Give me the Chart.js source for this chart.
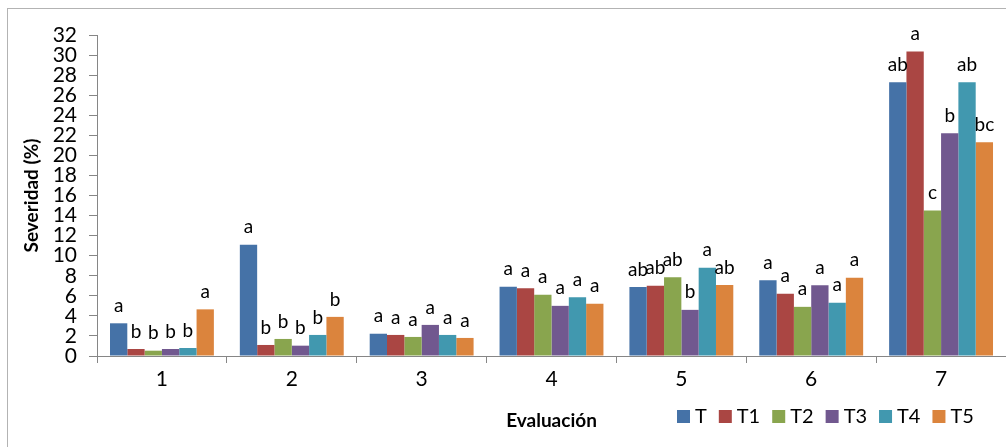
<!DOCTYPE html>
<html>
<head>
<meta charset="utf-8">
<script src="https://cdn.jsdelivr.net/npm/chart.js@4"></script>
<style>
  html, body { margin: 0; padding: 0; background: #fff; overflow: hidden; }
  #wrap { position: relative; width: 1006px; height: 447px; }
  #frame { position: absolute; left: 7px; top: 8px; width: 1100px; height: 500px; border: 1px solid #b3b3b3; }
  #box { position: absolute; left: 0; top: 0; width: 1006px; height: 447px; }
</style>
</head>
<body>
<div id="wrap">
  <div id="frame"></div>
  <div id="box"><canvas id="myChart"></canvas></div>
</div>
<script>
const categories = ['1', '2', '3', '4', '5', '6', '7'];
const seriesNames = ['T', 'T1', 'T2', 'T3', 'T4', 'T5'];
const valuesT  = [3.26, 11.1, 2.22, 6.9, 6.88, 7.55, 27.3];
const valuesT1 = [0.7, 1.1, 2.1, 6.75, 7.0, 6.2, 30.35];
const valuesT2 = [0.53, 1.7, 1.9, 6.1, 7.85, 4.9, 14.5];
const valuesT3 = [0.7, 1.03, 3.1, 5.0, 4.6, 7.05, 22.2];
const valuesT4 = [0.8, 2.1, 2.1, 5.85, 8.8, 5.3, 27.3];
const valuesT5 = [4.65, 3.9, 1.8, 5.2, 7.08, 7.8, 21.3];
const lettersT  = ['a', 'a', 'a', 'a', 'ab', 'a', 'ab'];
const lettersT1 = ['b', 'b', 'a', 'a', 'ab', 'a', 'a'];
const lettersT2 = ['b', 'b', 'a', 'a', 'ab', 'a', 'c'];
const lettersT3 = ['b', 'b', 'a', 'a', 'b', 'a', 'b'];
const lettersT4 = ['b', 'b', 'a', 'a', 'a', 'a', 'ab'];
const lettersT5 = ['a', 'b', 'a', 'a', 'ab', 'a', 'bc'];
const yTicks = [0, 2, 4, 6, 8, 10, 12, 14, 16, 18, 20, 22, 24, 26, 28, 30, 32];
const colors = ['#4572A7', '#AA4643', '#89A54E', '#71588F', '#4198AF', '#DB843D'];

const allValues = [valuesT, valuesT1, valuesT2, valuesT3, valuesT4, valuesT5];
const allLetters = [lettersT, lettersT1, lettersT2, lettersT3, lettersT4, lettersT5];
const FONT = 'Lato, Carlito, "Open Sans", sans-serif';

// letters above each bar
const letterPlugin = {
    id: 'letters',
    afterDatasetsDraw(chart) {
        const ctx = chart.ctx;
        ctx.save();
        ctx.font = '19px ' + FONT;
        ctx.fillStyle = '#000';
        ctx.textAlign = 'center';
        ctx.textBaseline = 'bottom';
        chart.data.datasets.forEach((ds, i) => {
            chart.getDatasetMeta(i).data.forEach((bar, j) => {
                ctx.fillText(allLetters[i][j], bar.x, bar.y - 8);
            });
        });
        ctx.restore();
    }
};

// legend drawn beside the x axis title
const legendPlugin = {
    id: 'sideLegend',
    afterDraw(chart) {
        const ctx = chart.ctx;
        ctx.save();
        ctx.font = '20px ' + FONT;
        ctx.textBaseline = 'middle';
        ctx.textAlign = 'left';
        let x = 677;
        const y = 416;
        chart.data.datasets.forEach((ds) => {
            ctx.fillStyle = ds.backgroundColor;
            ctx.fillRect(x, y - 6, 13, 13);
            ctx.fillStyle = '#000';
            ctx.fillText(ds.label, x + 18, y + 1);
            x += 18 + ctx.measureText(ds.label).width + 12;
        });
        ctx.restore();
    }
};

const ctx = document.getElementById('myChart').getContext('2d');
const myChart = new Chart(ctx, {
    type: 'bar',
    data: {
        labels: categories,
        datasets: seriesNames.map((name, i) => ({
            label: name,
            data: allValues[i],
            backgroundColor: colors[i],
            borderWidth: 0,
            categoryPercentage: 0.8,
            barPercentage: 1.0
        }))
    },
    options: {
        responsive: true,
        maintainAspectRatio: false,
        animation: false,
        layout: { padding: { top: 35, right: 0, bottom: 0, left: 0 } },
        plugins: {
            legend: { display: false },
            tooltip: { enabled: false }
        },
        scales: {
            x: {
                grid: { display: true, drawOnChartArea: false, offset: true, tickLength: 7, color: '#868686' },
                border: { color: '#868686' },
                ticks: { padding: 4, color: '#000', font: { family: FONT, size: 21 } },
                title: {
                    display: true, text: 'Evaluación', color: '#000',
                    font: { family: FONT, size: 19, weight: 'bold' },
                    padding: { top: 0, bottom: 15 }
                },
                afterFit(scale) { scale.height = 91; }
            },
            y: {
                min: 0, max: 32,
                afterBuildTicks(scale) { scale.ticks = yTicks.map(v => ({ value: v })); },
                grid: { display: true, drawOnChartArea: false, tickLength: 8, color: '#868686' },
                border: { color: '#868686' },
                ticks: { autoSkip: false, padding: 12, color: '#000', font: { family: FONT, size: 21 } },
                title: {
                    display: true, text: 'Severidad (%)', color: '#000',
                    font: { family: FONT, size: 19, weight: 'bold' },
                    padding: { top: 20, bottom: 0 }
                },
                afterFit(scale) { scale.width = 97; }
            }
        }
    },
    plugins: [letterPlugin, legendPlugin]
});
</script>
</body>
</html>
